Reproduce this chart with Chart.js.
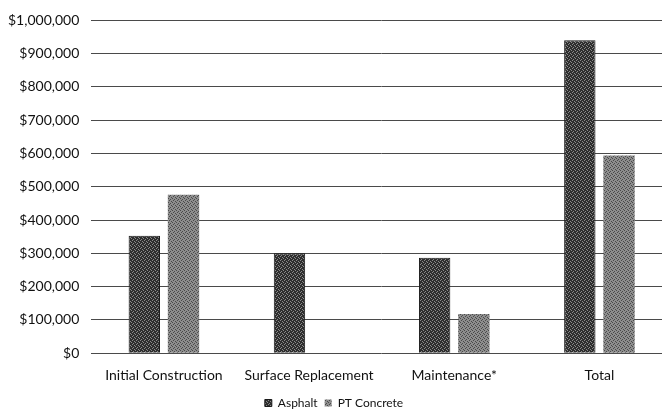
<!DOCTYPE html>
<html>
<head>
<meta charset="utf-8">
<script src="https://cdn.jsdelivr.net/npm/chart.js@4/dist/chart.umd.min.js"></script>
<style>
  html, body { margin: 0; padding: 0; background: #fff; overflow: hidden; }
  #wrap { width: 672px; height: 412px; }
</style>
</head>
<body>
<div id="wrap"><canvas id="costChart"></canvas></div>
<script>
/**************** DATA ****************/
const categories = ["Initial Construction", "Surface Replacement", "Maintenance*", "Total"];
const asphalt = [353000, 300000, 287000, 940000];
const ptConcrete = [476000, 0, 118000, 594000];
const yMax = 1000000;
const yStep = 100000;

/**************** PATTERNS ****************/
// small fixed tiles to mimic the dithered print look
function makePattern(base, dots, grid) {
    const c = document.createElement("canvas");
    c.width = 4; c.height = 4;
    const ctx = c.getContext("2d");
    ctx.fillStyle = base;
    ctx.fillRect(0, 0, 4, 4);
    ctx.fillStyle = dots;
    grid.forEach(p => ctx.fillRect(p[0], p[1], 1, 1));
    return ctx.createPattern(c, "repeat");
}

const asphaltFill = makePattern("#2e2e2e", "#8a8a8a", [[0, 0], [2, 1], [1, 3], [3, 2]]);
const concreteFill = makePattern("#8e8e8e", "#4a4a4a", [[1, 0], [3, 1], [0, 2], [2, 3]]);

const tickFont = { family: "Lato", size: 14 };

/**************** CHART ****************/
new Chart(document.getElementById("costChart"), {
    type: "bar",
    data: {
        labels: categories,
        datasets: [
            { label: "Asphalt", data: asphalt, backgroundColor: asphaltFill, borderColor: "#1a1a1a", borderWidth: 1 },
            { label: "PT Concrete", data: ptConcrete, backgroundColor: concreteFill, borderWidth: 0 }
        ]
    },
    options: {
        responsive: true,
        maintainAspectRatio: false,
        animation: false,
        layout: { padding: { top: 10, left: -4, right: 0, bottom: -7 } },
        datasets: { bar: { categoryPercentage: 0.54, barPercentage: 0.8 } },
        plugins: {
            tooltip: { enabled: false },
            legend: {
                position: "bottom",
                labels: {
                    boxWidth: 7, boxHeight: 7, padding: 7,
                    color: "#111",
                    font: { family: "Lato", size: 12 }
                }
            }
        },
        scales: {
            x: {
                grid: { display: false },
                border: { display: false },
                ticks: { color: "#111", font: tickFont, padding: 6 }
            },
            y: {
                min: 0, max: yMax,
                border: { display: false },
                grid: { color: "#4a4a4a", lineWidth: 1, drawTicks: false },
                ticks: {
                    stepSize: yStep,
                    padding: 12,
                    color: "#111",
                    font: tickFont,
                    callback: v => "$" + v.toLocaleString("en-US")
                }
            }
        }
    }
});
</script>
</body>
</html>
